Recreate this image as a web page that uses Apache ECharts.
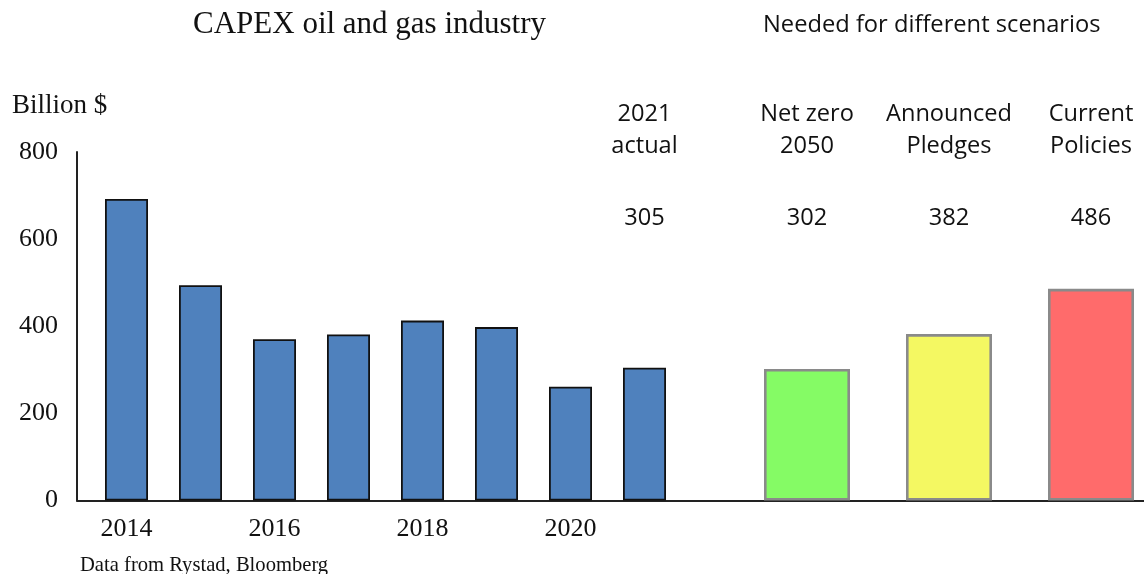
<!DOCTYPE html>
<html>
<head>
<meta charset="utf-8">
<script src="https://cdn.jsdelivr.net/npm/echarts@6/dist/echarts.min.js"></script>
<style>
  html, body { margin: 0; padding: 0; background: #fff; }
  #chart { width: 1144px; height: 574px; }
</style>
</head>
<body>
<div id="chart"></div>
<script>
// Historical upstream CAPEX, billion $
const years = ['2014', '2015', '2016', '2017', '2018', '2019', '2020', '2021'];
const capex = [692, 494, 370, 381, 413, 398, 261, 305];

// Investment needed under each scenario, billion $
const scenarios = ['Net zero\n2050', 'Announced\nPledges', 'Current\nPolicies'];
const needed = [302, 382, 486];
const scenarioColors = ['#85fb65', '#f4f862', '#ff6b6b'];

const yTicks = [0, 200, 400, 600, 800];

const serif = '"Liberation Serif", "Times New Roman", serif';
const sans = '"Open Sans", "Noto Sans", sans-serif';

const TOP = 152, BOTTOM = 73.5;
const yMin = yTicks[0], yMax = yTicks[yTicks.length - 1];

const hiddenY = (grid) => ({
  type: 'value', gridIndex: grid, min: yMin, max: yMax, interval: 200,
  show: false
});

const topAxis = (grid, cats, formatter, margin, gap) => ({
  type: 'category', gridIndex: grid, data: cats, position: 'top', boundaryGap: gap,
  axisLine: { show: false }, axisTick: { show: false }, splitLine: { show: false },
  axisLabel: {
    interval: 0, margin: margin, verticalAlign: 'middle', lineHeight: 32,
    fontFamily: sans, fontSize: 23.6, color: '#111', formatter: formatter
  }
});

const chart = echarts.init(document.getElementById('chart'), null, { renderer: 'canvas' });

chart.setOption({
  backgroundColor: '#fff',
  animation: false,
  title: [
    { text: 'CAPEX oil and gas industry', left: 193, top: 9,
      padding: 0, textStyle: { fontFamily: serif, fontSize: 31, fontWeight: 'normal', color: '#111', lineHeight: 31 } },
    { text: 'Needed for different scenarios', left: 763, top: 11,
      padding: 0, textStyle: { fontFamily: sans, fontSize: 23.7, fontWeight: 'normal', color: '#111', lineHeight: 28 } },
    { text: 'Billion $', left: 12, top: 92,
      padding: 0, textStyle: { fontFamily: serif, fontSize: 27, fontWeight: 'normal', color: '#111', lineHeight: 27 } },
    { text: 'Data from Rystad, Bloomberg', left: 80, top: 555,
      padding: 0, textStyle: { fontFamily: serif, fontSize: 20.6, fontWeight: 'normal', color: '#111', lineHeight: 21 } }
  ],
  grid: [
    // frame: value axis and baseline
    { left: 77, right: 0, top: TOP, bottom: BOTTOM },
    // historical bars
    { left: 89.5, width: 592, top: TOP, bottom: BOTTOM },
    // scenario bars, centred on the category ticks (first to last)
    { left: 807, width: 284, top: TOP, bottom: BOTTOM }
  ],
  xAxis: [
    { type: 'value', gridIndex: 0, min: 0, max: 1, show: true,
      axisLine: { show: true, lineStyle: { color: '#222', width: 2 } },
      axisTick: { show: false }, axisLabel: { show: false }, splitLine: { show: false } },
    { type: 'category', gridIndex: 1, data: years,
      axisLine: { show: false }, axisTick: { show: false },
      axisLabel: { interval: 1, margin: 16, fontFamily: serif, fontSize: 26, color: '#111' } },
    { type: 'category', gridIndex: 2, data: scenarios, boundaryGap: false,
      axisLine: { show: false }, axisTick: { show: false }, axisLabel: { show: false } },
    // column headings and stated values above the bars
    topAxis(1, years, (v, i) => i === years.length - 1 ? v + '\nactual' : '', 22, true),
    topAxis(1, years, (v, i) => i === years.length - 1 ? String(capex[i]) : '', -66, true),
    topAxis(2, scenarios, (v) => v, 22, false),
    topAxis(2, scenarios, (v, i) => String(needed[i]), -66, false)
  ],
  yAxis: [
    { type: 'value', gridIndex: 0, min: yMin, max: yMax, interval: 200,
      axisLine: { show: true, lineStyle: { color: '#222', width: 2 } },
      axisTick: { show: false }, splitLine: { show: false },
      axisLabel: { margin: 19, fontFamily: serif, fontSize: 26, color: '#111' } },
    hiddenY(1),
    hiddenY(2)
  ],
  series: [
    { type: 'bar', xAxisIndex: 1, yAxisIndex: 1, data: capex, barWidth: 43,
      itemStyle: { color: '#4f81bd', borderColor: '#111', borderWidth: 1.8 } },
    { type: 'bar', xAxisIndex: 2, yAxisIndex: 2, barWidth: 86,
      data: needed.map((v, i) => ({ value: v, itemStyle: { color: scenarioColors[i] } })),
      itemStyle: { borderColor: '#8a8a8a', borderWidth: 2.6 } }
  ]
});
</script>
</body>
</html>
